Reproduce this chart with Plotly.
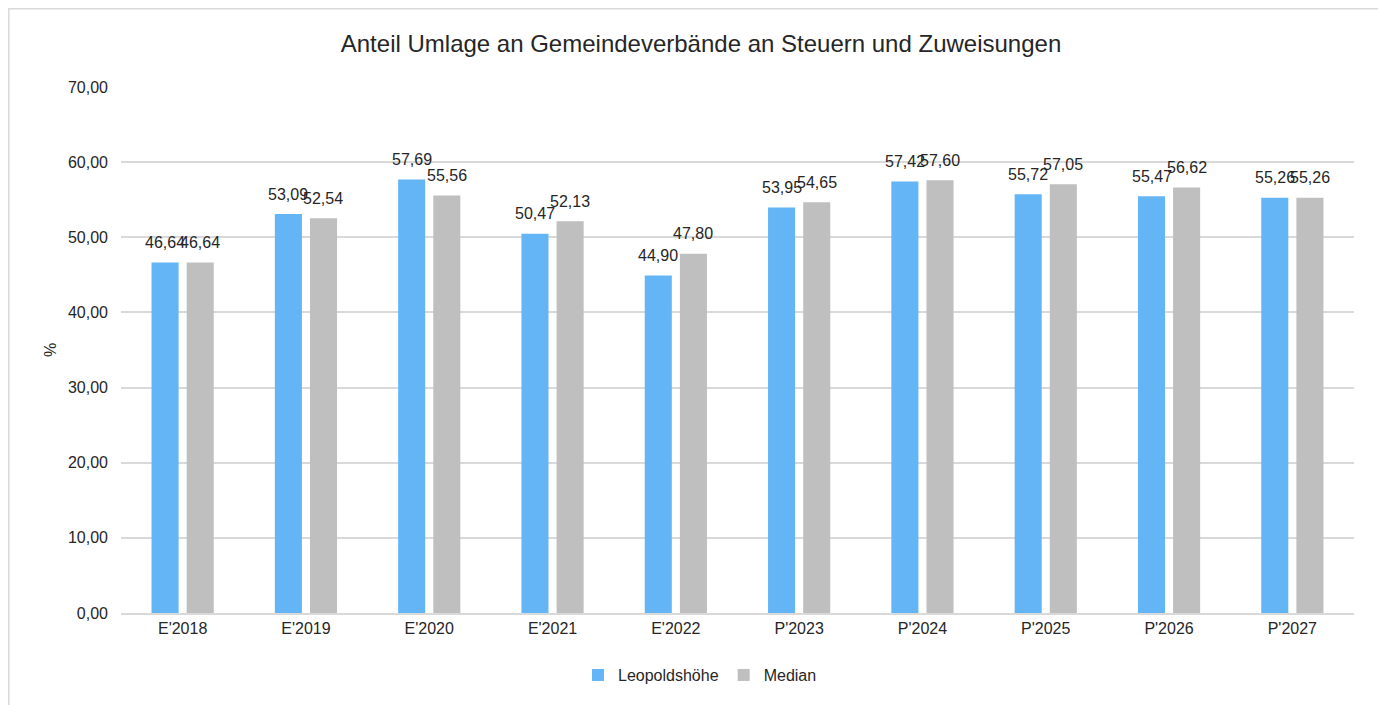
import plotly.graph_objects as go

categories = ["E'2018", "E'2019", "E'2020", "E'2021", "E'2022", "P'2023", "P'2024", "P'2025", "P'2026", "P'2027"]
leopoldshoehe = [46.64, 53.09, 57.69, 50.47, 44.90, 53.95, 57.42, 55.72, 55.47, 55.26]
median = [46.64, 52.54, 55.56, 52.13, 47.80, 54.65, 57.60, 57.05, 56.62, 55.26]
y_ticks = [0, 10, 20, 30, 40, 50, 60, 70]

def fmt(v):
    return f"{v:.2f}".replace(".", ",")

font = "Liberation Sans, Arial, sans-serif"
txt_color = "#262626"

fig = go.Figure()
fig.add_trace(go.Bar(
    x=categories, y=leopoldshoehe, name="Leopoldshöhe",
    marker=dict(color="#64B5F6", line=dict(width=0)),
))
fig.add_trace(go.Bar(
    x=categories, y=median, name="Median",
    marker=dict(color="#BFBFBF", line=dict(width=0)),
))

annotations = []
for series, shift in ((leopoldshoehe, -17.5), (median, 17.5)):
    for c, v in zip(categories, series):
        annotations.append(dict(
            x=c, y=v, xref="x", yref="y", text=fmt(v), showarrow=False,
            xshift=shift, yshift=20, xanchor="center", yanchor="middle",
            font=dict(size=16, color=txt_color, family=font),
        ))
annotations.append(dict(
    x=-0.0576, y=0.5, xref="paper", yref="paper", text="%", showarrow=False,
    textangle=-90, xanchor="center", yanchor="middle",
    font=dict(size=16, color=txt_color, family=font),
))

fig.update_layout(
    width=1386, height=705,
    margin=dict(l=113, r=40, t=79, b=100, autoexpand=False),
    paper_bgcolor="white", plot_bgcolor="white",
    font=dict(family=font, size=16, color=txt_color),
    title=dict(text="Anteil Umlage an Gemeindeverbände an Steuern und Zuweisungen",
               x=0.5, xanchor="center", y=0.950, yanchor="middle",
               font=dict(size=24, color=txt_color, family=font)),
    barmode="group", bargap=0.43, bargroupgap=0.23,
    legend=dict(orientation="h", x=0.4696, xanchor="center", y=-0.118, yanchor="middle",
                font=dict(size=16, family=font, color=txt_color), traceorder="normal",
                itemwidth=30),
    xaxis=dict(showgrid=False, showline=True, linecolor="#d9d9d9", linewidth=2,
               ticks="", automargin=False, tickfont=dict(size=16, family=font, color=txt_color)),
    yaxis=dict(range=[0, 70], tickvals=y_ticks, ticktext=[fmt(v) for v in y_ticks],
               showgrid=True, gridcolor="#d9d9d9", gridwidth=2, zeroline=False,
               showline=False, ticks="", ticklabelstandoff=12, automargin=False,
               tickfont=dict(size=16, family=font, color=txt_color)),
    annotations=annotations,
    shapes=[dict(type="rect", xref="paper", yref="paper",
                 x0=-0.0910, x1=1.0219, y0=-0.3, y1=1.149,
                 line=dict(color="#d9d9d9", width=1.5), fillcolor="rgba(0,0,0,0)", layer="below")],
)

fig.write_html("out.html")
